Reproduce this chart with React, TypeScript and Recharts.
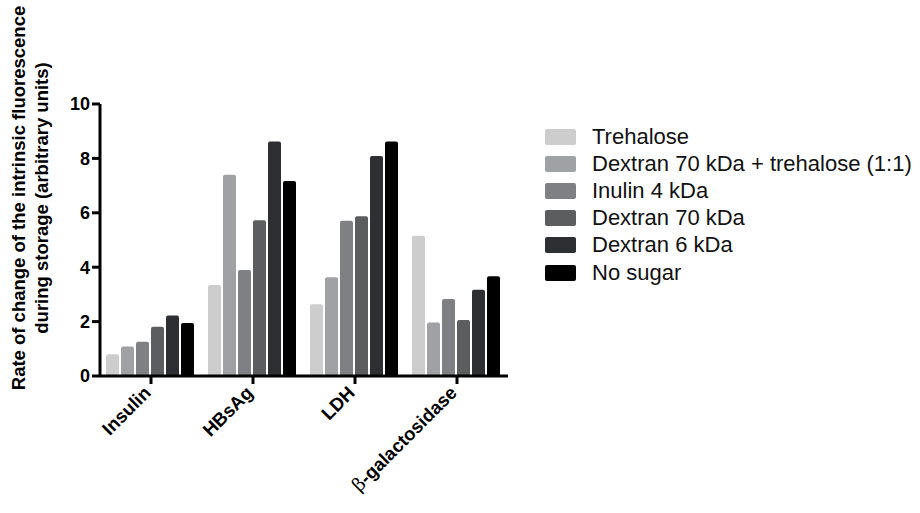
import React from "react";
import { BarChart, Bar, XAxis, YAxis } from "recharts";

const proteins = ["Insulin", "HBsAg", "LDH", "β-galactosidase"];
const trehalose = [0.8, 3.35, 2.64, 5.16];
const dextranTrehalose = [1.08, 7.4, 3.63, 1.97];
const inulin4 = [1.26, 3.9, 5.71, 2.83];
const dextran70 = [1.81, 5.73, 5.87, 2.06];
const dextran6 = [2.22, 8.62, 8.09, 3.17];
const noSugar = [1.95, 7.17, 8.62, 3.67];
const yTicks = [0, 2, 4, 6, 8, 10];

const series = [
  { key: "trehalose", name: "Trehalose", color: "#cdcdcd", values: trehalose },
  { key: "dextranTrehalose", name: "Dextran 70 kDa + trehalose (1:1)", color: "#9fa1a4", values: dextranTrehalose },
  { key: "inulin4", name: "Inulin 4 kDa", color: "#7e8083", values: inulin4 },
  { key: "dextran70", name: "Dextran 70 kDa", color: "#5c5d5f", values: dextran70 },
  { key: "dextran6", name: "Dextran 6 kDa", color: "#2d2f32", values: dextran6 },
  { key: "noSugar", name: "No sugar", color: "#000000", values: noSugar },
];

const data = proteins.map((p, i) => {
  const row: Record<string, string | number> = { protein: p };
  series.forEach((s) => (row[s.key] = s.values[i]));
  return row;
});

const FONT = "Arial, 'Liberation Sans', Helvetica, sans-serif";

function XTick({ x, y, payload }: any) {
  const label: string = payload.value;
  const isBeta = label.startsWith("β");
  return (
    <g transform={`translate(${x + 1},${y + 8}) rotate(-45)`}>
      <text textAnchor="end" fontFamily={FONT} fontWeight="bold" fontSize={18.5} fill="#000">
        {isBeta ? (
          <>
            <tspan fontFamily="'DejaVu Serif', 'Liberation Serif', serif" fontWeight="normal">β</tspan>
            <tspan>{label.slice(1)}</tspan>
          </>
        ) : (
          label
        )}
      </text>
    </g>
  );
}

function YLabel({ viewBox }: any) {
  const cy = viewBox.y + viewBox.height / 2 - 42;
  return (
    <g>
      <text transform={`translate(25,${cy}) rotate(-90)`} textAnchor="middle" fontFamily={FONT} fontWeight="bold" fontSize={18.5} fill="#000">
        Rate of change of the intrinsic fluorescence
      </text>
      <text transform={`translate(48,${cy}) rotate(-90)`} textAnchor="middle" fontFamily={FONT} fontWeight="bold" fontSize={18.5} fill="#000">
        during storage (arbitrary units)
      </text>
    </g>
  );
}

function LegendBox() {
  return (
    <div style={{ position: "absolute", left: 545, top: 123, fontFamily: FONT, fontSize: 22, color: "#111" }}>
      {series.map((s) => (
        <div key={s.key} style={{ display: "flex", alignItems: "center", height: 27.2, whiteSpace: "nowrap" }}>
          <div style={{ width: 31, height: 16, background: s.color, borderRadius: 2, marginRight: 16, flexShrink: 0 }} />
          <span>{s.name}</span>
        </div>
      ))}
    </div>
  );
}

export default function App() {
  return (
    <div style={{ position: "absolute", left: 0, top: 0, width: 920, height: 513, background: "#fff" }}>
      <BarChart
        width={920}
        height={513}
        data={data}
        margin={{ top: 104, right: 412, bottom: 0, left: 0 }}
        barCategoryGap={6}
        barGap={2}
      >
        <XAxis
          dataKey="protein"
          height={137}
          axisLine={{ stroke: "#000", strokeWidth: 3 }}
          tickLine={{ stroke: "#000", strokeWidth: 3 }}
          tickSize={8}
          tick={<XTick />}
          interval={0}
        />
        <YAxis
          width={100}
          domain={[0, 10]}
          ticks={yTicks}
          interval={0}
          axisLine={{ stroke: "#000", strokeWidth: 3 }}
          tickLine={{ stroke: "#000", strokeWidth: 3 }}
          tickSize={8}
          tick={{ fill: "#000", fontFamily: FONT, fontWeight: "bold", fontSize: 18 }}
          label={<YLabel />}
        />
        {series.map((s) => (
          <Bar
            key={s.key}
            dataKey={s.key}
            name={s.name}
            fill={s.color}
            radius={[2, 2, 0, 0]}
            isAnimationActive={false}
          />
        ))}
      </BarChart>
      <LegendBox />
    </div>
  );
}
